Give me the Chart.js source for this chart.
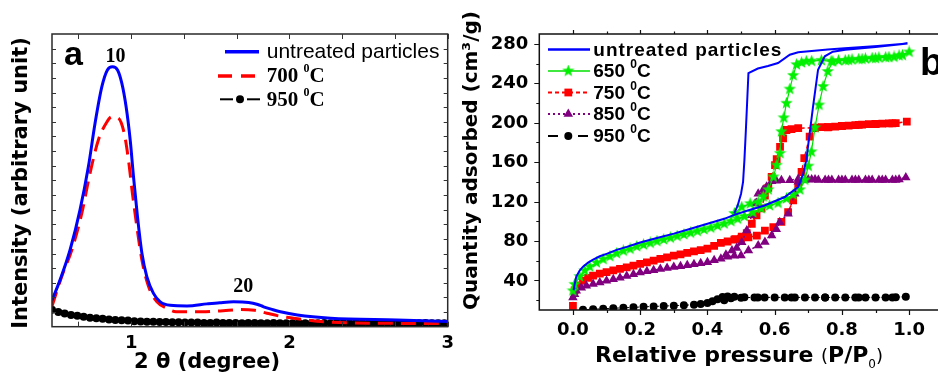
<!DOCTYPE html>
<html>
<head>
<meta charset="utf-8">
<script src="https://cdn.jsdelivr.net/npm/chart.js@4.4.1/dist/chart.umd.min.js"></script>
<style>
  html, body { margin: 0; padding: 0; background: #fff; overflow: hidden; }
  #wrap { position: relative; width: 938px; height: 375px; overflow: hidden; background: #fff; }
  #xrd { position: absolute; left: 0; top: 0; }
  #bet { position: absolute; left: 460px; top: 0; }
</style>
</head>
<body>
<div id="wrap">
  <canvas id="xrd" width="460" height="375"></canvas>
  <canvas id="bet" width="490" height="375"></canvas>
</div>
<script>
// ---------- Panel a: low-angle XRD patterns ----------
const thetaUntreated = [0.50, 0.551, 0.614, 0.677, 0.73, 0.772, 0.815, 0.85, 0.882, 0.914, 0.941, 0.968, 0.994, 1.015, 1.04, 1.068, 1.099, 1.141, 1.184, 1.247, 1.353, 1.479, 1.56, 1.647, 1.742, 1.80, 1.837, 1.89, 1.943, 2.05, 2.26, 2.68, 3.0];
const intUntreated   = [9.0, 16.0, 26.2, 39.9, 54.7, 69.5, 82.0, 87.7, 88.8, 87.7, 83.2, 75.2, 63.8, 51.2, 37.6, 25.1, 17.1, 11.4, 8.5, 7.3, 7.1, 7.8, 8.2, 8.5, 8.3, 7.6, 6.8, 5.9, 5.1, 4.0, 2.9, 2.3, 1.8];

const theta700 = [0.50, 0.561, 0.625, 0.688, 0.74, 0.793, 0.842, 0.878, 0.92, 0.956, 0.983, 1.008, 1.036, 1.068, 1.11, 1.163, 1.226, 1.283, 1.45, 1.55, 1.647, 1.69, 1.78, 1.858, 1.94, 2.027, 2.217, 2.5, 3.0];
const int700   = [7.0, 17.1, 26.2, 38.7, 52.4, 63.8, 69.5, 71.7, 71.2, 66.1, 57.0, 45.6, 34.2, 22.8, 13.7, 8.5, 6.3, 5.1, 5.1, 5.4, 5.7, 5.9, 5.6, 4.6, 3.6, 2.9, 1.7, 1.2, 1.1];

const theta950 = [0.50, 0.54, 0.58, 0.62, 0.66, 0.70, 0.74, 0.78, 0.82, 0.86, 0.90, 0.94, 0.98, 1.02, 1.06, 1.10, 1.14, 1.18, 1.22, 1.26, 1.30, 1.34, 1.38, 1.42, 1.46, 1.50, 1.54, 1.58, 1.62, 1.66, 1.70, 1.74, 1.78, 1.82, 1.86, 1.90, 1.94, 1.98, 2.02, 2.06, 2.10, 2.14, 2.18, 2.22, 2.26, 2.30, 2.34, 2.38, 2.42, 2.46, 2.50, 2.54, 2.58, 2.62, 2.66, 2.70, 2.74, 2.78, 2.82, 2.86, 2.90, 2.94, 2.98];
const int950   = [5.8, 5.0, 4.5, 4.0, 3.7, 3.4, 3.1, 2.9, 2.7, 2.5, 2.3, 2.2, 2.1, 1.9, 1.8, 1.7, 1.7, 1.6, 1.6, 1.5, 1.5, 1.4, 1.4, 1.4, 1.3, 1.3, 1.4, 1.3, 1.3, 1.3, 1.2, 1.3, 1.3, 1.2, 1.2, 1.3, 1.2, 1.2, 1.2, 1.3, 1.2, 1.2, 1.2, 1.3, 1.2, 1.2, 1.2, 1.2, 1.3, 1.2, 1.2, 1.2, 1.2, 1.3, 1.2, 1.2, 1.2, 1.2, 1.2, 1.3, 1.2, 1.2, 1.2];

const thetaTicks = [1, 2, 3];
const thetaTickLabels = ['1', '2', '3'];
const thetaMinorTicks = [0.6667, 1.3333, 1.6667, 2.3333, 2.6667];
const intensityTicks = [5, 10, 15, 20, 25, 30, 35, 40, 45, 50, 55, 60, 65, 70, 75, 80, 85, 90, 95];
const seriesNamesA = ['untreated particles', '700 ⁰C', '950 ⁰C'];

// ---------- Panel b: N2 sorption isotherms ----------
const untreatedAdsP = [0.002, 0.005, 0.01, 0.02, 0.03, 0.045, 0.06, 0.08, 0.10, 0.13, 0.16, 0.20, 0.25, 0.30, 0.35, 0.40, 0.45, 0.48, 0.52, 0.57, 0.63, 0.67, 0.685, 0.694, 0.70, 0.714, 0.729, 0.749, 0.773, 0.81, 0.90, 0.995];
const untreatedAdsQ = [30, 36, 44, 50, 54, 58, 61, 64.5, 67, 71, 74, 78.5, 83, 87.5, 92.5, 97.5, 102.5, 106.5, 111, 116, 124.6, 134.8, 148.5, 162, 178, 216, 253.8, 267.4, 272, 274, 276.8, 280.3];
const untreatedDesP = [0.906, 0.808, 0.758, 0.67, 0.645, 0.61, 0.58, 0.55, 0.522, 0.518, 0.514, 0.51, 0.506, 0.50, 0.49, 0.48];
const untreatedDesQ = [277.8, 275.5, 274.2, 271.4, 269, 260.6, 257.5, 255, 250.4, 220, 190, 162, 140, 128, 116, 108];

const t650AdsP = [0.0, 0.005, 0.02, 0.035, 0.05, 0.07, 0.09, 0.11, 0.13, 0.15, 0.17, 0.19, 0.21, 0.23, 0.25, 0.27, 0.29, 0.31, 0.33, 0.35, 0.37, 0.39, 0.41, 0.43, 0.45, 0.47, 0.49, 0.51, 0.535, 0.56, 0.585, 0.61, 0.635, 0.655, 0.675, 0.69, 0.70, 0.709, 0.72, 0.732, 0.744, 0.758, 0.773, 0.79, 0.81, 0.83, 0.85, 0.87, 0.89, 0.91, 0.93, 0.955, 0.98, 1.0];
const t650AdsQ = [29.5, 36, 44, 50, 54, 58, 61.5, 64.5, 67.5, 70, 72, 74.5, 76.2, 78, 79.8, 81.5, 83.2, 85, 86.6, 88.3, 90, 91.7, 93.4, 95.5, 97.5, 100, 102.5, 105, 109, 113, 116, 118.5, 123, 127, 132, 142, 156, 170.5, 195, 218, 236.8, 252, 262, 263, 263.3, 264, 264.5, 265, 265.5, 266, 266.3, 266.7, 268.5, 271.8];
const t650DesP = [0.97, 0.94, 0.90, 0.86, 0.82, 0.768, 0.739, 0.71, 0.694, 0.68, 0.665, 0.655, 0.645, 0.635, 0.627, 0.62, 0.616, 0.606, 0.596, 0.581, 0.566, 0.551, 0.527, 0.502, 0.48];
const t650DesQ = [268, 266.5, 265.5, 264.5, 263.5, 262.3, 263.3, 262.5, 262.3, 261, 258.9, 248, 234.1, 219.8, 205, 190.9, 168.9, 157, 145, 132, 125, 119.5, 117.9, 114.4, 108];

const t750AdsP = [0.0, 0.005, 0.015, 0.03, 0.045, 0.06, 0.08, 0.10, 0.12, 0.14, 0.16, 0.18, 0.20, 0.22, 0.24, 0.26, 0.28, 0.30, 0.32, 0.34, 0.36, 0.38, 0.40, 0.42, 0.44, 0.46, 0.48, 0.50, 0.522, 0.547, 0.571, 0.596, 0.62, 0.64, 0.655, 0.67, 0.68, 0.688, 0.704, 0.719, 0.74, 0.76, 0.78, 0.80, 0.82, 0.84, 0.86, 0.88, 0.90, 0.92, 0.94, 0.96, 0.993];
const t750AdsQ = [14.2, 30, 35, 39.6, 42.5, 44.8, 46.8, 48.5, 50.2, 51.8, 53.3, 55, 56.7, 58.4, 60, 61.8, 63.5, 65.2, 66.5, 68, 69.4, 70.8, 72.2, 75, 78, 79.5, 81.5, 82.5, 83.6, 85.5, 90.5, 94, 99.5, 109.3, 121.3, 136.5, 150, 164, 185.8, 194.4, 195.5, 195.5, 196, 196.5, 197, 197.5, 198, 198.5, 198.8, 199, 199.3, 199.6, 201];
const t750DesP = [0.95, 0.90, 0.85, 0.80, 0.758, 0.72, 0.67, 0.65, 0.635, 0.625, 0.616, 0.606, 0.601, 0.591, 0.581, 0.571, 0.561, 0.546, 0.532, 0.517, 0.502, 0.483];
const t750DesQ = [199.3, 198.5, 197.8, 196.8, 195.4, 195, 194.4, 193.5, 192.6, 184.2, 175.6, 163, 157, 145, 134, 126, 113, 106, 97.5, 88, 84.5, 82];

const t850AdsP = [0.0, 0.005, 0.01, 0.025, 0.04, 0.06, 0.08, 0.10, 0.12, 0.14, 0.16, 0.18, 0.20, 0.22, 0.24, 0.26, 0.28, 0.30, 0.32, 0.34, 0.36, 0.38, 0.40, 0.42, 0.44, 0.46, 0.48, 0.50, 0.522, 0.551, 0.571, 0.591, 0.605, 0.615, 0.64, 0.66, 0.67, 0.69, 0.71, 0.73, 0.75, 0.77, 0.79, 0.81, 0.83, 0.85, 0.87, 0.89, 0.91, 0.93, 0.95, 0.97, 0.99];
const t850AdsQ = [22.7, 26, 29.5, 32.5, 34.6, 36.5, 38, 39.6, 41.2, 42.8, 44.5, 46.2, 48, 49.2, 50.4, 51.5, 52.5, 53.5, 54.5, 55.5, 56.5, 57.5, 58.5, 60.5, 62, 64, 65, 65.2, 70.3, 75.4, 79, 85.6, 92, 99, 107.7, 128, 140, 142, 142.5, 142, 142, 142, 142, 142, 142, 142, 142, 142, 142, 142, 142, 142.5, 144.4];
const t850DesP = [0.96, 0.92, 0.88, 0.84, 0.80, 0.76, 0.72, 0.70, 0.67, 0.645, 0.62, 0.605, 0.591, 0.576, 0.566, 0.551, 0.542, 0.532, 0.517, 0.502, 0.487, 0.473, 0.455];
const t850DesQ = [142, 142, 142, 142, 142, 142, 142.5, 142.5, 143, 141.6, 141.6, 141, 140.5, 135, 132, 128, 118, 106, 90.7, 78.7, 73, 70.3, 66];

const t950AdsP = [0.03, 0.06, 0.09, 0.12, 0.15, 0.18, 0.21, 0.24, 0.27, 0.30, 0.33, 0.36, 0.38, 0.40, 0.415, 0.43, 0.445, 0.46, 0.48, 0.51, 0.54, 0.57, 0.60, 0.63, 0.66, 0.69, 0.72, 0.75, 0.78, 0.81, 0.84, 0.87, 0.90, 0.93, 0.96, 0.99];
const t950AdsQ = [10.3, 10.8, 11.3, 11.8, 12.2, 12.7, 13.2, 13.6, 14, 14.4, 14.8, 15.4, 16, 17, 18.8, 21, 23.3, 23.8, 23.5, 23, 22.8, 22.8, 22.7, 22.7, 22.8, 22.8, 22.8, 22.8, 22.8, 22.8, 22.8, 22.8, 22.8, 22.8, 22.9, 23.5];
const t950DesP = [0.95, 0.85, 0.75, 0.65, 0.55, 0.50, 0.47, 0.45];
const t950DesQ = [22.8, 22.8, 22.8, 22.8, 22.8, 22.5, 22, 20];

const pressureTicks = [0, 0.2, 0.4, 0.6, 0.8, 1.0];
const pressureTickLabels = ['0.0', '0.2', '0.4', '0.6', '0.8', '1.0'];
const pressureMinorTicks = [0.1, 0.3, 0.5, 0.7, 0.9];
const quantityTicks = [40, 80, 120, 160, 200, 240, 280];
const quantityTickLabels = ['40', '80', '120', '160', '200', '240', '280'];
const quantityMinorTicks = [20, 60, 100, 140, 180, 220, 260];
const seriesNamesB = ['untreated particles', '650 ⁰C', '750 ⁰C', '850 ⁰C', '950 ⁰C'];

// ---------- helpers ----------
const pts = (xs, ys) => xs.map((v, i) => ({ x: v, y: ys[i] }));
const BOLD = (s) => 'bold ' + s + 'px "DejaVu Sans"';

function starSprite(size, color) {
  const c = document.createElement('canvas');
  c.width = c.height = size;
  const g = c.getContext('2d');
  const cx = size / 2, cy = size / 2, R = size / 2, r = R * 0.42;
  g.fillStyle = color;
  g.beginPath();
  for (let i = 0; i < 10; i++) {
    const ang = -Math.PI / 2 + i * Math.PI / 5;
    const rad = i % 2 ? r : R;
    g.lineTo(cx + rad * Math.cos(ang), cy + rad * Math.sin(ang));
  }
  g.closePath();
  g.fill();
  return c;
}
const STAR = starSprite(13, '#00f000');

// text with a raised "0" wherever the label contains the superscript zero
function drawSupLabel(ctx, text, x, y, font, supFont, rise, spacing) {
  const parts = text.split('⁰');
  ctx.save();
  ctx.textAlign = 'left';
  ctx.textBaseline = 'alphabetic';
  if (spacing) ctx.letterSpacing = spacing;
  let cx = x;
  parts.forEach((p, i) => {
    if (i > 0) {
      ctx.font = supFont;
      ctx.fillText('0', cx, y - rise);
      cx += ctx.measureText('0').width;
    }
    ctx.font = font;
    ctx.fillText(p, cx, y);
    cx += ctx.measureText(p).width;
  });
  ctx.restore();
}

function drawRuns(ctx, runs, x, y, align) {
  ctx.save();
  ctx.textBaseline = 'alphabetic';
  ctx.textAlign = 'left';
  let total = 0;
  runs.forEach(r => { ctx.font = r.font; total += ctx.measureText(r.t).width; });
  let cx = align === 'center' ? x - total / 2 : x;
  runs.forEach(r => {
    ctx.font = r.font;
    ctx.fillText(r.t, cx, y + (r.dy || 0));
    cx += ctx.measureText(r.t).width;
  });
  ctx.restore();
}

function seg(ctx, x1, y1, x2, y2) { ctx.moveTo(x1, y1); ctx.lineTo(x2, y2); }

function legendStroke(ctx, x1, x2, y, color, width, dash) {
  ctx.save();
  ctx.strokeStyle = color;
  ctx.lineWidth = width;
  ctx.setLineDash(dash || []);
  ctx.beginPath();
  seg(ctx, x1, y, x2, y);
  ctx.stroke();
  ctx.restore();
}

function legendMarker(ctx, kind, x, y, color, r) {
  ctx.save();
  ctx.fillStyle = color;
  ctx.beginPath();
  if (kind === 'circle') { ctx.arc(x, y, r, 0, Math.PI * 2); ctx.fill(); }
  else if (kind === 'rect') { const s = r * Math.SQRT1_2; ctx.fillRect(x - s, y - s, 2 * s, 2 * s); }
  else if (kind === 'triangle') {
    ctx.moveTo(x, y - r);
    ctx.lineTo(x + r * Math.sin(2 * Math.PI / 3), y - r * Math.cos(2 * Math.PI / 3));
    ctx.lineTo(x + r * Math.sin(4 * Math.PI / 3), y - r * Math.cos(4 * Math.PI / 3));
    ctx.closePath(); ctx.fill();
  }
  else if (kind === 'star') { ctx.drawImage(STAR, x - STAR.width / 2, y - STAR.height / 2); }
  ctx.restore();
}

// ---------- panel a decorations ----------
const xrdDecor = {
  id: 'xrdDecor',
  afterDatasetsDraw(chart) {
    const { ctx, chartArea: a, scales: { x, y } } = chart;
    ctx.save();
    // frame
    ctx.strokeStyle = '#2a2a2a';
    ctx.lineWidth = 1.5;
    ctx.strokeRect(a.left, a.top, a.right - a.left, a.bottom - a.top);
    // inward ticks on all four sides
    ctx.lineWidth = 1;
    ctx.strokeStyle = '#333';
    ctx.beginPath();
    thetaTicks.concat(thetaMinorTicks).forEach(v => {
      const px = Math.round(x.getPixelForValue(v)) + 0.5;
      seg(ctx, px, a.bottom, px, a.bottom - 5);
      seg(ctx, px, a.top, px, a.top + 5);
    });
    intensityTicks.forEach(v => {
      const py = Math.round(y.getPixelForValue(v)) + 0.5;
      seg(ctx, a.left, py, a.left + 4, py);
      seg(ctx, a.right, py, a.right - 4, py);
    });
    ctx.stroke();

    // tick labels
    ctx.fillStyle = '#000';
    ctx.font = BOLD(18);
    ctx.textAlign = 'center';
    ctx.textBaseline = 'alphabetic';
    thetaTicks.forEach((v, i) => ctx.fillText(thetaTickLabels[i], x.getPixelForValue(v), 348));

    // axis titles
    drawRuns(ctx, [{ t: '2 θ (degree)', font: BOLD(21) }], 207, 368, 'center');
    ctx.save();
    ctx.translate(21.5, 183);
    ctx.rotate(-Math.PI / 2);
    ctx.font = BOLD(21);
    ctx.textAlign = 'center';
    ctx.textBaseline = 'middle';
    ctx.fillText('Intensity (arbitrary unit)', 0, 0);
    ctx.restore();

    // panel letter and reflection indices
    ctx.font = 'bold 34px "Liberation Sans"';
    ctx.textAlign = 'left';
    ctx.fillText('a', 64, 65);
    ctx.font = 'bold 20px "Liberation Serif"';
    ctx.textAlign = 'center';
    ctx.fillText('10', 115.5, 61.5);
    ctx.fillText('20', 243.3, 291.7);

    // legend
    legendStroke(ctx, 225, 259, 51.7, '#0000ff', 3.5);
    ctx.font = '21px "Liberation Sans"';
    ctx.textAlign = 'left';
    ctx.fillText(seriesNamesA[0], 266.7, 57.5);
    legendStroke(ctx, 218, 259, 76, '#ff0000', 3.5, [14, 9]);
    drawSupLabel(ctx, seriesNamesA[1], 266.7, 82, 'bold 21px "Liberation Serif"', 'bold 12px "Liberation Serif"', 10);
    legendStroke(ctx, 220, 233, 99.3, '#000', 2);
    legendStroke(ctx, 247, 260, 99.3, '#000', 2);
    legendMarker(ctx, 'circle', 240, 99.3, '#000', 4);
    drawSupLabel(ctx, seriesNamesA[2], 266.7, 106, 'bold 21px "Liberation Serif"', 'bold 12px "Liberation Serif"', 10);
    ctx.restore();
  }
};

new Chart(document.getElementById('xrd'), {
  type: 'line',
  data: {
    datasets: [
      { label: seriesNamesA[0], data: pts(thetaUntreated, intUntreated), borderColor: '#0000ff', borderWidth: 3,
        pointRadius: 0, cubicInterpolationMode: 'monotone', clip: 0, order: 0 },
      { label: seriesNamesA[1], data: pts(theta700, int700), borderColor: '#ff0000', borderWidth: 3, borderDash: [15, 8],
        pointRadius: 0, cubicInterpolationMode: 'monotone', clip: 0, order: 1 },
      { label: seriesNamesA[2], data: pts(theta950, int950), borderColor: '#000', borderWidth: 1,
        pointRadius: 4, pointStyle: 'circle', pointBackgroundColor: '#000', pointBorderWidth: 0, clip: 0, order: 2 }
    ]
  },
  options: {
    responsive: false, animation: false, devicePixelRatio: 1, events: [],
    layout: { padding: { left: 52, right: 12.3, top: 34, bottom: 48.3 } },
    scales: {
      x: { type: 'linear', min: 0.5, max: 3, display: false },
      y: { type: 'linear', min: 0, max: 100, display: false }
    },
    plugins: { legend: { display: false }, tooltip: { enabled: false } }
  },
  plugins: [xrdDecor]
});

// ---------- panel b decorations ----------
const betDecor = {
  id: 'betDecor',
  afterDatasetsDraw(chart) {
    const { ctx, chartArea: a, scales: { x, y } } = chart;
    ctx.save();
    ctx.strokeStyle = '#111';
    ctx.lineWidth = 1.5;
    ctx.strokeRect(a.left, a.top, a.right - a.left, a.bottom - a.top);

    // outward ticks
    ctx.lineWidth = 1.2;
    ctx.beginPath();
    pressureTicks.forEach(v => {
      const px = Math.round(x.getPixelForValue(v)) + 0.5;
      seg(ctx, px, a.bottom, px, a.bottom + 5);
      seg(ctx, px, a.top, px, a.top - 4);
    });
    pressureMinorTicks.forEach(v => {
      const px = Math.round(x.getPixelForValue(v)) + 0.5;
      seg(ctx, px, a.bottom, px, a.bottom + 3);
      seg(ctx, px, a.top, px, a.top - 2.5);
    });
    quantityTicks.forEach(v => {
      const py = Math.round(y.getPixelForValue(v)) + 0.5;
      seg(ctx, a.left, py, a.left - 5, py);
    });
    quantityMinorTicks.forEach(v => {
      const py = Math.round(y.getPixelForValue(v)) + 0.5;
      seg(ctx, a.left, py, a.left - 3, py);
    });
    ctx.stroke();

    // tick labels
    ctx.fillStyle = '#000';
    ctx.font = BOLD(18);
    ctx.textAlign = 'right';
    ctx.textBaseline = 'middle';
    quantityTicks.forEach((v, i) => ctx.fillText(quantityTickLabels[i], 68.3, y.getPixelForValue(v) + 0.5));
    ctx.textAlign = 'center';
    ctx.textBaseline = 'alphabetic';
    pressureTicks.forEach((v, i) => ctx.fillText(pressureTickLabels[i], x.getPixelForValue(v), 335));

    // axis titles
    drawRuns(ctx, [
      { t: 'Relative pressure ', font: BOLD(22) },
      { t: '(', font: '18px "DejaVu Sans"' },
      { t: 'P/P', font: BOLD(22) },
      { t: '0', font: '12px "DejaVu Sans"', dy: 6 },
      { t: ')', font: '18px "DejaVu Sans"' }
    ], 135, 361.5, 'left');
    ctx.save();
    ctx.translate(12, 160.5);
    ctx.rotate(-Math.PI / 2);
    ctx.font = BOLD(20);
    ctx.textAlign = 'center';
    ctx.textBaseline = 'middle';
    ctx.fillText('Quantity adsorbed (cm³/g)', 0, 0);
    ctx.restore();

    // panel letter
    ctx.font = 'bold 38px "Liberation Sans"';
    ctx.textAlign = 'left';
    ctx.fillText('b', 460, 75);

    // legend
    const lx1 = 88, lx2 = 130, mx = 108.3, tx = 133.3;
    const rows = [49.5, 71, 92.5, 114, 136];
    const f = 'bold 19px "Liberation Sans"', sf = 'bold 12px "Liberation Sans"';
    legendStroke(ctx, lx1, lx2, rows[0], '#0000ff', 2.5);
    drawSupLabel(ctx, seriesNamesB[0], tx, rows[0] + 6, f, sf, 9, '1px');
    legendStroke(ctx, lx1, lx2, rows[1], '#00e000', 1.3);
    legendMarker(ctx, 'star', mx, rows[1], '#00f000', 6);
    drawSupLabel(ctx, seriesNamesB[1], tx, rows[1] + 6, f, sf, 9);
    legendStroke(ctx, lx1, lx2, rows[2], '#ff0000', 2, [4, 3]);
    legendMarker(ctx, 'rect', mx, rows[2], '#ff0000', 5.5);
    drawSupLabel(ctx, seriesNamesB[2], tx, rows[2] + 6, f, sf, 9);
    legendStroke(ctx, lx1, lx2, rows[3], '#800080', 2, [2, 3]);
    legendMarker(ctx, 'triangle', mx, rows[3], '#800080', 5.5);
    drawSupLabel(ctx, seriesNamesB[3], tx, rows[3] + 6, f, sf, 9);
    legendStroke(ctx, lx1, lx1 + 10, rows[4], '#000', 2);
    legendStroke(ctx, lx2 - 12, lx2 - 2, rows[4], '#000', 2);
    legendMarker(ctx, 'circle', mx, rows[4], '#000', 4);
    drawSupLabel(ctx, seriesNamesB[4], tx, rows[4] + 6, f, sf, 9);
    ctx.restore();
  }
};

new Chart(document.getElementById('bet'), {
  type: 'line',
  data: {
    datasets: [
      { label: seriesNamesB[0], data: pts(untreatedAdsP, untreatedAdsQ).concat(pts(untreatedDesP, untreatedDesQ)),
        borderColor: '#0000ff', borderWidth: 2, pointRadius: 0, clip: 0, order: 0 },
      { label: seriesNamesB[1], data: pts(t650AdsP, t650AdsQ).concat(pts(t650DesP, t650DesQ)),
        borderColor: '#00e000', borderWidth: 1.2, pointStyle: STAR, pointRadius: 6, clip: 0, order: 1 },
      { label: seriesNamesB[2], data: pts(t750AdsP, t750AdsQ).concat(pts(t750DesP, t750DesQ)),
        borderColor: '#ff0000', borderWidth: 1.5, borderDash: [4, 3], pointStyle: 'rect', pointRadius: 5.5,
        pointBackgroundColor: '#ff0000', pointBorderWidth: 0, clip: 0, order: 3 },
      { label: seriesNamesB[3], data: pts(t850AdsP, t850AdsQ).concat(pts(t850DesP, t850DesQ)),
        borderColor: '#800080', borderWidth: 1.5, borderDash: [2, 3], pointStyle: 'triangle', pointRadius: 5.5,
        pointBackgroundColor: '#800080', pointBorderWidth: 0, clip: 0, order: 2 },
      { label: seriesNamesB[4], data: pts(t950AdsP, t950AdsQ).concat(pts(t950DesP, t950DesQ)),
        borderColor: '#000', borderWidth: 1, borderDash: [6, 4], pointStyle: 'circle', pointRadius: 4,
        pointBackgroundColor: '#000', pointBorderWidth: 0, clip: 0, order: 4 }
    ]
  },
  options: {
    responsive: false, animation: false, devicePixelRatio: 1, events: [],
    layout: { padding: { left: 79.3, right: 4, top: 34, bottom: 65 } },
    scales: {
      x: { type: 'linear', min: -0.1, max: 1.1, display: false },
      y: { type: 'linear', min: 10, max: 290, display: false }
    },
    plugins: { legend: { display: false }, tooltip: { enabled: false } }
  },
  plugins: [betDecor]
});
</script>
</body>
</html>
